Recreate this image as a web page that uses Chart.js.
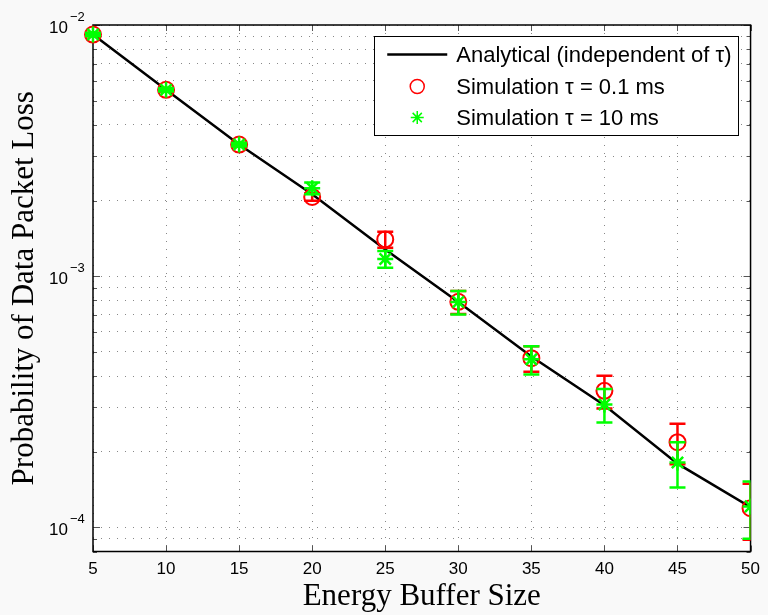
<!DOCTYPE html>
<html>
<head>
<meta charset="utf-8">
<script src="https://cdn.jsdelivr.net/npm/chart.js"></script>
<style>
html,body{margin:0;padding:0;background:#f9f9f9;}
#wrap{width:768px;height:615px;position:relative;}
</style>
</head>
<body>
<div id="wrap"><canvas id="c" width="768" height="615"></canvas></div>
<script>
// ---- data ----
const bufferSizes = [5, 10, 15, 20, 25, 30, 35, 40, 45, 50];
const analytical  = [9.16e-3, 5.52e-3, 3.34e-3, 2.12e-3, 1.277e-3, 7.88e-4, 4.78e-4, 3.06e-4, 1.79e-4, 1.20e-4];
const sim01       = [9.16e-3, 5.52e-3, 3.34e-3, 2.066e-3, 1.40e-3, 7.90e-4, 4.71e-4, 3.49e-4, 2.18e-4, 1.19e-4];
const sim01Err    = [1.5e-4, 9e-5, 6e-5, 7e-5, 1.03e-4, 8.3e-5, 5.5e-5, 5.2e-5, 4.0e-5, 3.0e-5];
const sim10       = [9.16e-3, 5.52e-3, 3.34e-3, 2.24e-3, 1.17e-3, 7.88e-4, 4.66e-4, 3.08e-4, 1.81e-4, 1.21e-4];
const sim10Err    = [1.5e-4, 9e-5, 6e-5, 1.2e-4, 9.0e-5, 8.5e-5, 6.0e-5, 4.7e-5, 3.7e-5, 3.1e-5];
const seriesLabels = ['Analytical (independent of \u03c4)', 'Simulation \u03c4 = 0.1 ms', 'Simulation \u03c4 = 10 ms'];
const xTickValues = [5, 10, 15, 20, 25, 30, 35, 40, 45, 50];
const yDecadeValues = [1e-4, 1e-3, 1e-2];
const yTickBase = '10';
const yTickExps = ['\u22124', '\u22123', '\u22122'];
const xTitle = 'Energy Buffer Size';
const yTitle = 'Probability of Data Packet Loss';
const yMin = 8e-5, yMax = 1e-2;

const toXY = (ys) => bufferSizes.map((x, i) => ({x: x, y: ys[i]}));

const SANS = "'Liberation Sans', Arial, sans-serif";
const SERIF = "'Liberation Serif', 'Times New Roman', serif";

const bgPlugin = {
  id: 'bg',
  beforeDraw(chart) {
    const {ctx, chartArea: a} = chart;
    ctx.save();
    ctx.fillStyle = '#f9f9f9';
    ctx.fillRect(0, 0, chart.width, chart.height);
    ctx.fillStyle = '#ffffff';
    ctx.fillRect(a.left, a.top, a.right - a.left, a.bottom - a.top);
    ctx.restore();
  }
};

const boxPlugin = {
  id: 'box',
  beforeDatasetsDraw(chart) {
    const {ctx, chartArea: a, scales} = chart;
    ctx.save();
    ctx.strokeStyle = '#555';
    ctx.lineWidth = 1;
    scales.x.ticks.forEach(t => {
      const px = Math.round(scales.x.getPixelForValue(t.value)) + 0.5;
      ctx.beginPath();
      ctx.moveTo(px, a.bottom); ctx.lineTo(px, a.bottom - 6);
      ctx.moveTo(px, a.top); ctx.lineTo(px, a.top + 6);
      ctx.stroke();
    });
    scales.y.ticks.forEach(t => {
      const py = Math.round(scales.y.getPixelForValue(t.value)) + 0.5;
      const major = yDecadeValues.some(d => Math.abs(d - t.value) / d < 1e-6);
      const len = major ? 7 : 4;
      ctx.beginPath();
      ctx.moveTo(a.left, py); ctx.lineTo(a.left + len, py);
      ctx.moveTo(a.right, py); ctx.lineTo(a.right - len, py);
      ctx.stroke();
    });
    ctx.strokeStyle = '#000';
    ctx.lineWidth = 1.5;
    ctx.strokeRect(a.left, a.top, a.right - a.left, a.bottom - a.top);
    ctx.restore();
  },
  afterDraw(chart) {
    const {ctx, scales} = chart;
    ctx.save();
    ctx.fillStyle = '#000';
    yDecadeValues.forEach((v, i) => {
      const py = scales.y.getPixelForValue(v);
      ctx.font = '17px ' + SANS;
      ctx.textAlign = 'right';
      ctx.textBaseline = 'alphabetic';
      ctx.fillText(yTickBase, 68, py + 8);
      ctx.font = '13px ' + SANS;
      ctx.textAlign = 'left';
      ctx.fillText(yTickExps[i], 70, py - 4);
    });
    ctx.restore();
  }
};

const errorBarPlugin = {
  id: 'errorBars',
  beforeDatasetDraw(chart, args) {
    const ds = chart.data.datasets[args.index];
    if (!ds.errors) return;
    const {ctx, chartArea: a, scales} = chart;
    ctx.save();
    ctx.beginPath();
    ctx.rect(a.left - 30, a.top - 30, a.right - a.left + 30, a.bottom - a.top + 60);
    ctx.clip();
    ctx.strokeStyle = ds.borderColor;
    ctx.lineWidth = 2.5;
    ds.data.forEach((p, i) => {
      const e = ds.errors[i];
      const px = scales.x.getPixelForValue(p.x);
      const hi = scales.y.getPixelForValue(p.y + e);
      const lo = scales.y.getPixelForValue(p.y - e);
      ctx.beginPath();
      ctx.moveTo(px, hi); ctx.lineTo(px, lo);
      ctx.moveTo(px - 8, hi); ctx.lineTo(px + 8, hi);
      ctx.moveTo(px - 8, lo); ctx.lineTo(px + 8, lo);
      ctx.stroke();
    });
    ctx.restore();
  }
};

const legendPlugin = {
  id: 'insideLegend',
  afterDraw(chart) {
    const {ctx, chartArea: a} = chart;
    const dsets = chart.data.datasets;
    ctx.save();
    ctx.font = '22px ' + SANS;
    const tw = Math.max(...dsets.map(d => ctx.measureText(d.label).width));
    const right = a.right - 12, top = a.top + 11;
    const w = 82 + tw + 7, h = 99;
    const left = right - w;
    ctx.fillStyle = '#fff';
    ctx.fillRect(left, top, w, h);
    ctx.strokeStyle = '#000';
    ctx.lineWidth = 1;
    ctx.strokeRect(Math.round(left) + 0.5, top + 0.5, Math.round(w), h);
    const rows = [top + 18.5, top + 50.5, top + 81.5];
    const symX = left + 43;
    dsets.forEach((d, i) => {
      const y = rows[i];
      if (i === 0) {
        ctx.strokeStyle = d.borderColor; ctx.lineWidth = 2.5;
        ctx.beginPath(); ctx.moveTo(left + 13, y); ctx.lineTo(left + 73, y); ctx.stroke();
      } else if (d.pointStyle === 'circle') {
        ctx.strokeStyle = d.borderColor; ctx.lineWidth = 1.5;
        ctx.beginPath(); ctx.arc(symX, y, 7, 0, Math.PI * 2); ctx.stroke();
      } else {
        ctx.strokeStyle = d.borderColor; ctx.lineWidth = 1.5;
        const r = 6.5, q = r * Math.SQRT1_2;
        ctx.beginPath();
        ctx.moveTo(symX - r, y); ctx.lineTo(symX + r, y);
        ctx.moveTo(symX, y - r); ctx.lineTo(symX, y + r);
        ctx.moveTo(symX - q, y - q); ctx.lineTo(symX + q, y + q);
        ctx.moveTo(symX - q, y + q); ctx.lineTo(symX + q, y - q);
        ctx.stroke();
      }
      ctx.fillStyle = '#000';
      ctx.textAlign = 'left';
      ctx.textBaseline = 'middle';
      ctx.fillText(d.label, left + 82, y + 1);
    });
    ctx.restore();
  }
};

const markerClip = {left: 30, top: 30, right: 0, bottom: 30};

new Chart(document.getElementById('c'), {
  type: 'line',
  data: {
    datasets: [
      {
        label: seriesLabels[0], data: toXY(analytical),
        borderColor: '#000000', borderWidth: 2.5, pointRadius: 0, tension: 0,
        order: 2, clip: markerClip
      },
      {
        label: seriesLabels[1], data: toXY(sim01), errors: sim01Err,
        showLine: false, pointStyle: 'circle', pointRadius: 8, pointBorderWidth: 2,
        borderColor: '#ff0000', pointBorderColor: '#ff0000', pointBackgroundColor: 'rgba(0,0,0,0)',
        backgroundColor: 'rgba(0,0,0,0)', order: 1, clip: markerClip
      },
      {
        label: seriesLabels[2], data: toXY(sim10), errors: sim10Err,
        showLine: false, pointStyle: 'star', pointRadius: 8, pointBorderWidth: 2.5,
        borderColor: '#00ff00', pointBorderColor: '#00ff00', backgroundColor: '#00ff00',
        order: 0, clip: markerClip
      }
    ]
  },
  options: {
    responsive: false,
    animation: false,
    devicePixelRatio: 1,
    layout: {padding: {top: 25, right: 10, left: 0, bottom: 0}},
    plugins: {legend: {display: false}, tooltip: {enabled: false}},
    scales: {
      x: {
        type: 'linear', min: 5, max: 50,
        afterBuildTicks(scale) { scale.ticks = xTickValues.map(v => ({value: v})); },
        afterFit(scale) { scale.height = 63.5; },
        grid: {color: '#888', lineWidth: 1, drawTicks: false},
        border: {display: false, dash: [1, 7]},
        ticks: {color: '#000', font: {family: SANS, size: 17}, padding: 8, maxRotation: 0},
        title: {display: true, text: xTitle, color: '#000', font: {family: SERIF, size: 31, lineHeight: 1}, padding: {top: 0, bottom: 2.5}}
      },
      y: {
        type: 'logarithmic', min: yMin, max: yMax,
        afterBuildTicks(scale) {
          const t = [];
          for (let e = -5; e <= -2; e++) {
            for (let m = 1; m <= 9; m++) {
              const v = m * Math.pow(10, e);
              if (v >= yMin * 0.999 && v <= yMax * 1.001) t.push({value: v});
            }
          }
          scale.ticks = t;
        },
        afterFit(scale) { scale.width = 93; },
        grid: {color: '#888', lineWidth: 1, drawTicks: false},
        border: {display: false, dash: [1, 7]},
        ticks: {display: false},
        title: {display: true, text: yTitle, color: '#000', font: {family: SERIF, size: 31, lineHeight: 1}, padding: {top: 9, bottom: 0}}
      }
    }
  },
  plugins: [bgPlugin, boxPlugin, errorBarPlugin, legendPlugin]
});
</script>
</body>
</html>
